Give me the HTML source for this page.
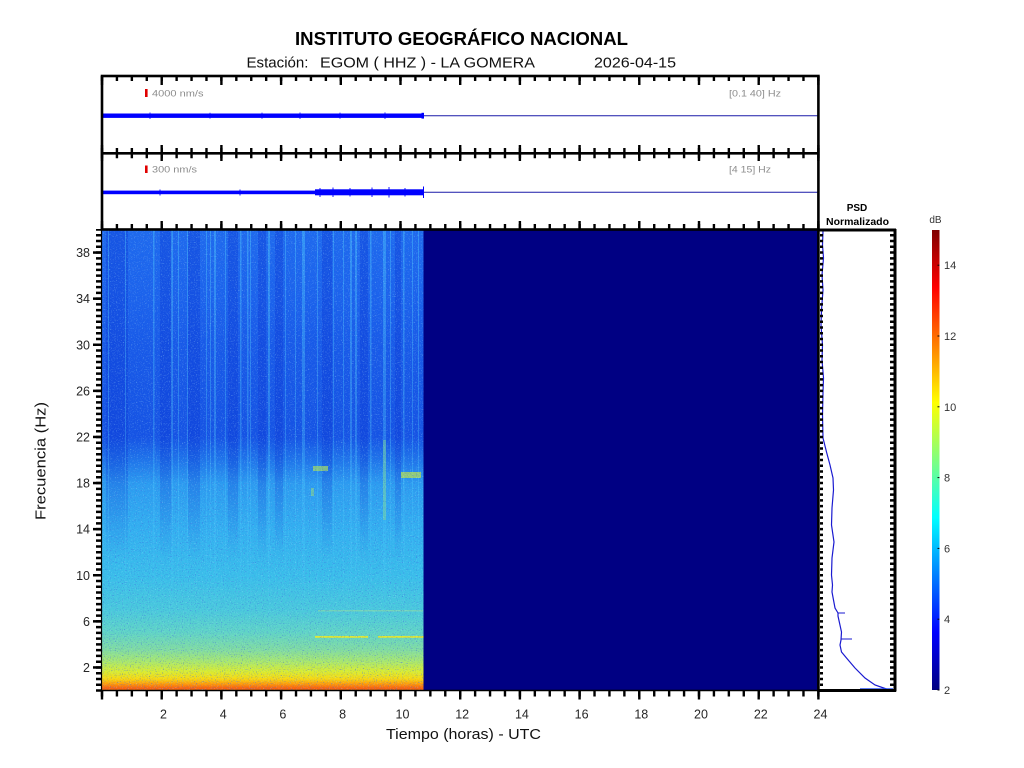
<!DOCTYPE html>
<html><head><meta charset="utf-8"><style>
html,body{margin:0;padding:0;background:#fff;}
svg{display:block;}
text{font-family:"Liberation Sans",Arial,sans-serif;}
</style></head><body>
<svg width="1024" height="768" viewBox="0 0 1024 768" xmlns="http://www.w3.org/2000/svg">
<defs>
  <linearGradient id="spec" gradientUnits="userSpaceOnUse" x1="0" y1="229.5" x2="0" y2="690.5">
    <stop offset="0" stop-color="#1e6aee"/>
    <stop offset="0.153" stop-color="#1b62ec"/>
    <stop offset="0.25" stop-color="#185ae8"/>
    <stop offset="0.45" stop-color="#1553e4"/>
    <stop offset="0.5" stop-color="#1e74ea"/>
    <stop offset="0.552" stop-color="#2c9cf0"/>
    <stop offset="0.652" stop-color="#33b0f0"/>
    <stop offset="0.752" stop-color="#3abeea"/>
    <stop offset="0.825" stop-color="#4ac9dc"/>
    <stop offset="0.873" stop-color="#60d4c6"/>
    <stop offset="0.912" stop-color="#82dca0"/>
    <stop offset="0.937" stop-color="#aae86c"/>
    <stop offset="0.959" stop-color="#daec30"/>
    <stop offset="0.975" stop-color="#f8d810"/>
    <stop offset="0.986" stop-color="#ff9a08"/>
    <stop offset="0.995" stop-color="#f86010"/>
    <stop offset="1" stop-color="#ff7a10"/>
  </linearGradient>
  <linearGradient id="lightS" gradientUnits="userSpaceOnUse" x1="0" y1="230" x2="0" y2="640">
    <stop offset="0" stop-color="#50d0ff" stop-opacity="0.4"/>
    <stop offset="0.6" stop-color="#50d0ff" stop-opacity="0.3"/>
    <stop offset="1" stop-color="#50d0ff" stop-opacity="0"/>
  </linearGradient>
  <linearGradient id="darkS" gradientUnits="userSpaceOnUse" x1="0" y1="230" x2="0" y2="560">
    <stop offset="0" stop-color="#0830d0" stop-opacity="0.35"/>
    <stop offset="0.7" stop-color="#0830d0" stop-opacity="0.3"/>
    <stop offset="1" stop-color="#0830d0" stop-opacity="0"/>
  </linearGradient>
  <linearGradient id="jet" x1="0" y1="1" x2="0" y2="0">
    <stop offset="0" stop-color="#000080"/>
    <stop offset="0.125" stop-color="#0000ff"/>
    <stop offset="0.375" stop-color="#00ffff"/>
    <stop offset="0.625" stop-color="#ffff00"/>
    <stop offset="0.875" stop-color="#ff0000"/>
    <stop offset="1" stop-color="#800000"/>
  </linearGradient>
  <filter id="nz1" x="0" y="0" width="100%" height="100%">
    <feTurbulence type="fractalNoise" baseFrequency="0.85" numOctaves="1" seed="3"/>
    <feColorMatrix type="matrix" values="0 0 0 0 0.05  0 0 0 0 0.15  0 0 0 0 0.75  5 0 0 0 -2.9"/>
  </filter>
  <filter id="nz2" x="0" y="0" width="100%" height="100%">
    <feTurbulence type="fractalNoise" baseFrequency="0.85" numOctaves="1" seed="11"/>
    <feColorMatrix type="matrix" values="0 0 0 0 0.4  0 0 0 0 0.85  0 0 0 0 1  0 5 0 0 -2.9"/>
  </filter>
  <clipPath id="dataClip"><rect x="102" y="229.5" width="321.5" height="461"/></clipPath>
</defs>

<!-- Title -->
<text x="295" y="45" font-size="18.5" font-weight="bold" fill="#000" textLength="333" lengthAdjust="spacingAndGlyphs">INSTITUTO GEOGRÁFICO NACIONAL</text>
<text x="246.5" y="67.5" font-size="15" fill="#111" textLength="62" lengthAdjust="spacingAndGlyphs">Estación:</text>
<text x="320" y="67.5" font-size="15" fill="#111" textLength="215" lengthAdjust="spacingAndGlyphs">EGOM ( HHZ ) - LA GOMERA</text>
<text x="594" y="67.5" font-size="15" fill="#111" textLength="82" lengthAdjust="spacingAndGlyphs">2026-04-15</text>

<!-- Trace panels -->
<rect x="102" y="76" width="716.4" height="153" fill="#fff"/>
<line x1="423" y1="115.7" x2="818" y2="115.7" stroke="#1a1aa8" stroke-width="1"/>
<rect x="102" y="113.5" width="321.5" height="4.4" fill="#0000ff"/>
<rect x="421.5" y="112.8" width="2.5" height="5.8" fill="#0000ff"/>
<g stroke="#0000ff" stroke-width="0.8">
<line x1="150" y1="112.5" x2="150" y2="119"/><line x1="210" y1="112.7" x2="210" y2="118.6"/>
<line x1="262" y1="112.6" x2="262" y2="118.8"/><line x1="300" y1="112.5" x2="300" y2="119"/>
<line x1="340" y1="112.6" x2="340" y2="118.8"/><line x1="385" y1="112.4" x2="385" y2="119"/>
</g>
<line x1="423" y1="192.3" x2="818" y2="192.3" stroke="#1a1aa8" stroke-width="1"/>
<rect x="102" y="190.6" width="213" height="3.6" fill="#0000ff"/>
<rect x="315" y="189.3" width="108.5" height="6" fill="#0000ff"/>
<line x1="423.5" y1="186.5" x2="423.5" y2="198" stroke="#0000ff" stroke-width="1"/>
<g stroke="#0000ff" stroke-width="0.9">
<line x1="320" y1="188" x2="320" y2="197"/><line x1="333" y1="187.5" x2="333" y2="197"/>
<line x1="350" y1="188" x2="350" y2="196.5"/><line x1="372" y1="187.5" x2="372" y2="197"/>
<line x1="389" y1="187" x2="389" y2="197.5"/><line x1="405" y1="188" x2="405" y2="196.5"/>
<line x1="160" y1="189.5" x2="160" y2="195.5"/><line x1="240" y1="189.5" x2="240" y2="195.5"/>
</g>
<rect x="145" y="89" width="2.6" height="8" fill="#e00000"/>
<rect x="145" y="165.5" width="2.6" height="7.5" fill="#e00000"/>
<text x="152" y="96.5" font-size="9.5" fill="#8c8c8c" textLength="51.5" lengthAdjust="spacingAndGlyphs">4000 nm/s</text>
<text x="152" y="172.5" font-size="9.5" fill="#8c8c8c" textLength="45" lengthAdjust="spacingAndGlyphs">300 nm/s</text>
<text x="729" y="96.5" font-size="9.5" fill="#8c8c8c" textLength="52" lengthAdjust="spacingAndGlyphs">[0.1 40] Hz</text>
<text x="729" y="172.5" font-size="9.5" fill="#8c8c8c" textLength="42" lengthAdjust="spacingAndGlyphs">[4 15] Hz</text>

<!-- Spectrogram -->
<rect x="102" y="229.5" width="716.4" height="461" fill="#000083"/>
<g clip-path="url(#dataClip)">
  <rect x="102" y="229.5" width="321.5" height="461" fill="url(#spec)"/>
  <g fill="url(#darkS)">
    <rect x="106" y="229" width="22" height="340"/><rect x="160" y="229" width="12" height="340"/>
    <rect x="188" y="229" width="12" height="340"/><rect x="228" y="229" width="10" height="340"/>
    <rect x="258" y="229" width="8" height="340"/><rect x="275" y="229" width="8" height="340"/>
    <rect x="322" y="229" width="10" height="340"/><rect x="360" y="229" width="8" height="340"/>
    <rect x="395" y="229" width="6" height="340"/>
  </g>
  <g fill="url(#lightS)">
    <rect x="108" y="229" width="1" height="420"/><rect x="125" y="229" width="1" height="420"/>
    <rect x="153" y="229" width="1.5" height="420"/><rect x="171" y="229" width="2" height="420"/>
    <rect x="178" y="229" width="1" height="420"/><rect x="187" y="229" width="1" height="420"/>
    <rect x="206" y="229" width="1" height="420"/><rect x="210" y="229" width="1" height="420"/>
    <rect x="214" y="229" width="2" height="420"/><rect x="225" y="229" width="1" height="420"/>
    <rect x="240" y="229" width="1.5" height="420"/><rect x="247" y="229" width="1.5" height="420"/>
    <rect x="250" y="229" width="1" height="420"/><rect x="268" y="229" width="2" height="420"/>
    <rect x="285" y="229" width="1" height="420"/><rect x="295" y="229" width="1" height="420"/>
    <rect x="302" y="229" width="3" height="420"/><rect x="317" y="229" width="1" height="420"/>
    <rect x="333" y="229" width="1" height="420"/><rect x="343" y="229" width="1" height="420"/>
    <rect x="350" y="229" width="2" height="420"/><rect x="355" y="229" width="2" height="420"/>
    <rect x="370" y="229" width="1.5" height="420"/><rect x="383" y="229" width="3" height="420"/>
    <rect x="390" y="229" width="1" height="420"/><rect x="403" y="229" width="1.5" height="420"/>
    <rect x="412" y="229" width="1" height="420"/><rect x="418" y="229" width="1" height="420"/>
  </g>
  <rect x="383" y="440" width="3" height="80" fill="#8ee080" opacity="0.4"/>
  <rect x="313" y="466" width="15" height="5" fill="#a8e060" opacity="0.7"/>
  <rect x="401" y="472" width="20" height="6" fill="#b8e050" opacity="0.75"/>
  <rect x="311" y="488" width="3" height="8" fill="#a0e070" opacity="0.5"/>
  <rect x="318" y="610" width="105" height="1.5" fill="#90dca0" opacity="0.6"/>
  <rect x="315" y="636" width="53" height="1.8" fill="#e0e830"/>
  <rect x="378" y="636" width="45.5" height="1.8" fill="#e0e830"/>
  <rect x="102" y="229.5" width="321.5" height="461" filter="url(#nz1)" opacity="0.65"/>
  <rect x="102" y="229.5" width="321.5" height="461" filter="url(#nz2)" opacity="0.35"/>
</g>

<!-- PSD panel -->
<rect x="819" y="230" width="76" height="460.5" fill="#fff"/>
<polyline fill="none" stroke="#1a1ad0" stroke-width="1.2" points="823,231 822.5,245 823.5,258 822,275 823,290 821.5,310 821,325 822.5,345 822,360 823.5,378 823,392 822.5,415 823,438 826.5,452 830,465 833,478 833.5,490 832,508 831.5,525 834,542 832,558 831.5,575 832.5,585 832,592 835,608 838,613 838,616 841.5,632 841,640 840,645 841.5,652 846.5,658 855,668 865,678 875,685 886.5,689 893,690.5"/>
<line x1="838" y1="613" x2="845" y2="613" stroke="#1a1ad0" stroke-width="1"/>
<line x1="841" y1="639" x2="852" y2="639" stroke="#1a1ad0" stroke-width="1"/>
<line x1="860" y1="689" x2="893" y2="689" stroke="#2a50f0" stroke-width="1.5"/>
<g stroke="#000">
  <line x1="821.5" y1="691.75" x2="821.5" y2="229" stroke-width="3" stroke-dasharray="2.5 3.2625"/>
  <line x1="892.5" y1="691.75" x2="892.5" y2="229" stroke-width="5" stroke-dasharray="2.5 3.2625"/>
</g>
<g fill="none" stroke="#000" stroke-width="3">
  <line x1="818.4" y1="230" x2="896" y2="230"/>
  <line x1="895" y1="229" x2="895" y2="691.5"/>
  <line x1="818.4" y1="690.5" x2="896" y2="690.5"/>
</g>
<text x="857" y="211" font-size="10" font-weight="bold" fill="#000" text-anchor="middle">PSD</text>
<text x="826" y="225" font-size="10" font-weight="bold" fill="#000" textLength="63" lengthAdjust="spacingAndGlyphs">Normalizado</text>

<!-- Colorbar -->
<rect x="932" y="230" width="7.5" height="460" fill="url(#jet)"/>
<text x="935.5" y="223" font-size="10" fill="#333" text-anchor="middle">dB</text>
<g stroke="#000" stroke-width="1">
  <line x1="937.5" y1="690" x2="939.5" y2="690"/><line x1="937.5" y1="619.2" x2="939.5" y2="619.2"/>
  <line x1="937.5" y1="548.4" x2="939.5" y2="548.4"/><line x1="937.5" y1="477.6" x2="939.5" y2="477.6"/>
  <line x1="937.5" y1="406.8" x2="939.5" y2="406.8"/><line x1="937.5" y1="336" x2="939.5" y2="336"/>
  <line x1="937.5" y1="265.2" x2="939.5" y2="265.2"/>
</g>
<g font-size="11" fill="#333">
  <text x="944" y="694">2</text><text x="944" y="623.2">4</text><text x="944" y="552.4">6</text>
  <text x="944" y="481.6">8</text><text x="944" y="410.8">10</text><text x="944" y="340">12</text>
  <text x="944" y="269.2">14</text>
</g>

<!-- Axes frames -->
<g fill="none" stroke="#000" stroke-width="2.6">
  <rect x="102" y="76" width="716.4" height="153.5"/>
  <line x1="102" y1="153.3" x2="818.4" y2="153.3"/>
  <line x1="818.4" y1="229" x2="818.4" y2="691.5"/>
</g>
<line x1="101.5" y1="229" x2="101.5" y2="691" stroke="#000" stroke-width="1.2"/>
<line x1="101" y1="690.5" x2="819" y2="690.5" stroke="#000" stroke-width="1.5"/>

<!-- x ticks -->
<g stroke="#000" fill="none">
  <g stroke-dasharray="2.4 12.525">
    <line x1="100.8" y1="78.5" x2="820" y2="78.5" stroke-width="5"/>
    <line x1="100.8" y1="150.5" x2="820" y2="150.5" stroke-width="5"/>
    <line x1="100.8" y1="155.8" x2="820" y2="155.8" stroke-width="5"/>
    <line x1="100.8" y1="226.5" x2="820" y2="226.5" stroke-width="5"/>
    <line x1="100.8" y1="693.5" x2="820" y2="693.5" stroke-width="6"/>
  </g>
  <g stroke-dasharray="2.4 57.3">
    <line x1="100.8" y1="80.5" x2="820" y2="80.5" stroke-width="9"/>
    <line x1="100.8" y1="149" x2="820" y2="149" stroke-width="8"/>
    <line x1="100.8" y1="157" x2="820" y2="157" stroke-width="8"/>
    <line x1="100.8" y1="225" x2="820" y2="225" stroke-width="8"/>
    <line x1="100.8" y1="695" x2="820" y2="695" stroke-width="9"/>
  </g>
  <line x1="98.5" y1="691.75" x2="98.5" y2="229" stroke-width="5" stroke-dasharray="2.5 3.2625"/>
  <g stroke-width="2.5">
    <line x1="93" y1="667.45" x2="101" y2="667.45"/><line x1="93" y1="621.35" x2="101" y2="621.35"/>
    <line x1="93" y1="575.25" x2="101" y2="575.25"/><line x1="93" y1="529.15" x2="101" y2="529.15"/>
    <line x1="93" y1="483.05" x2="101" y2="483.05"/><line x1="93" y1="436.95" x2="101" y2="436.95"/>
    <line x1="93" y1="390.85" x2="101" y2="390.85"/><line x1="93" y1="344.75" x2="101" y2="344.75"/>
    <line x1="93" y1="298.65" x2="101" y2="298.65"/><line x1="93" y1="252.55" x2="101" y2="252.55"/>
  </g>
</g>

<!-- tick labels -->
<g font-size="12.5" fill="#262626" text-anchor="end">
  <text x="90" y="672">2</text><text x="90" y="625.9">6</text><text x="90" y="579.8">10</text>
  <text x="90" y="533.7">14</text><text x="90" y="487.6">18</text><text x="90" y="441.5">22</text>
  <text x="90" y="395.4">26</text><text x="90" y="349.3">30</text><text x="90" y="303.2">34</text>
  <text x="90" y="257.1">38</text>
</g>
<g font-size="12.5" fill="#262626" text-anchor="middle">
  <text x="163.5" y="718.5">2</text><text x="223.2" y="718.5">4</text><text x="282.9" y="718.5">6</text>
  <text x="342.6" y="718.5">8</text><text x="402.5" y="718.5">10</text><text x="462.2" y="718.5">12</text>
  <text x="521.9" y="718.5">14</text><text x="581.6" y="718.5">16</text><text x="641.3" y="718.5">18</text>
  <text x="701" y="718.5">20</text><text x="760.8" y="718.5">22</text><text x="820.5" y="718.5">24</text>
</g>

<!-- axis labels -->
<text x="386" y="739" font-size="15" fill="#111" textLength="155" lengthAdjust="spacingAndGlyphs">Tiempo (horas) - UTC</text>
<text transform="translate(45.5,520) rotate(-90)" x="0" y="0" font-size="15" fill="#111" textLength="118" lengthAdjust="spacingAndGlyphs">Frecuencia  (Hz)</text>
</svg>
</body></html>
